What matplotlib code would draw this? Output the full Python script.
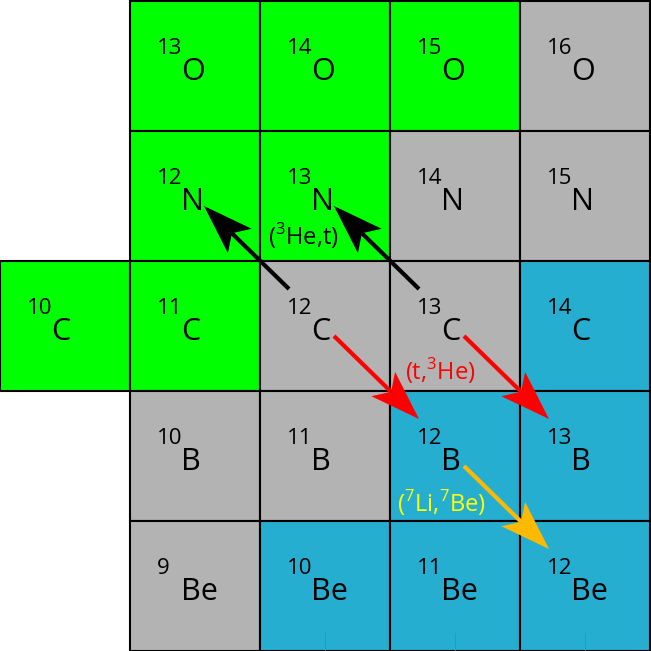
import numpy as np
import matplotlib
matplotlib.use("Agg")
from matplotlib import pyplot as plt
from matplotlib.patches import Rectangle, Polygon

plt.rcParams["font.family"] = ["Open Sans", "DejaVu Sans"]
plt.rcParams["mathtext.fontset"] = "custom"
plt.rcParams["mathtext.rm"] = "Open Sans"

# ── Nuclides (proton number, mass number, kind) ───────────────────────────────
SYMBOLS = {4: "Be", 5: "B", 6: "C", 7: "N", 8: "O"}
Z    = [8, 8, 8, 8,   7, 7, 7, 7,   6, 6, 6, 6, 6,   5, 5, 5, 5,   4, 4, 4, 4]
A    = [13, 14, 15, 16, 12, 13, 14, 15, 10, 11, 12, 13, 14, 10, 11, 12, 13, 9, 10, 11, 12]
KIND = ["p", "p", "p", "s", "p", "p", "s", "s", "p", "p", "s", "s", "n",
        "s", "s", "n", "n", "s", "n", "n", "n"]

# ── Reactions: (Z, A) from -> to ──────────────────────────────────────────────
REACTIONS = [((6, 12), (7, 12)), ((6, 13), (7, 13)),
             ((6, 12), (5, 12)), ((6, 13), (5, 13)),
             ((5, 12), (4, 12))]
REACTION_GROUP = [0, 0, 1, 1, 2]
LABELS = [r"($^{3}$He,t)", r"(t,$^{3}$He)", r"($^{7}$Li,$^{7}$Be)"]

COLORS = {"p": "#00ff00", "s": "#b3b3b3", "n": "#26aed0"}
ARROW_COLORS = ["#000000", "#ff0000", "#ffb900"]
LABEL_COLORS = ["#000000", "#ff0000", "#ffff00"]
LABEL_POS = [(6.331, 7.192), (7.385, 6.154), (7.392, 5.138)]

PX = 130.0  # pixels per cell


def draw_arrow(ax, p0, p1, color, lw=3.0, head_len=50 / PX, head_w=17 / PX):
    p0, p1 = np.asarray(p0, float), np.asarray(p1, float)
    u = (p1 - p0) / np.linalg.norm(p1 - p0)
    n = np.array([-u[1], u[0]])
    back = p1 - u * head_len
    notch = p1 - u * head_len * 0.78
    ax.plot([p0[0], notch[0]], [p0[1], notch[1]], color=color, lw=lw,
            solid_capstyle="butt", zorder=4)
    ax.add_patch(Polygon([p1, back + n * head_w, notch, back - n * head_w],
                         closed=True, facecolor=color, edgecolor="none", zorder=5))


fig = plt.figure(figsize=(6.51, 6.51), dpi=100)
ax = fig.add_axes([0, 0, 1, 1])
ax.set_xlim(4, 4 + 651 / PX)
ax.set_ylim(9 + 1 / PX - 651 / PX, 9 + 1 / PX)
ax.axis("off")

for z, a, k in zip(Z, A, KIND):
    n = a - z
    ax.add_patch(Rectangle((n, z), 1, 1, facecolor=COLORS[k], edgecolor="black",
                           lw=1.5, zorder=1))
    ax.text(n + 27 / PX, z + 1 - 53 / PX, str(a), fontsize=16, ha="left",
            va="baseline", zorder=3)
    ax.text(n + 51 / PX, z + 1 - 79 / PX, SYMBOLS[z], fontsize=22, ha="left",
            va="baseline", zorder=3)
    if k == "n" and z == min(Z):
        ax.plot([n + 0.5, n + 0.5], [z, z + 18 / PX], color="#1e9cbf", lw=0.6, zorder=2)

# arrows connect inner corner points of diagonal neighbours
UL = np.array([29 / PX, 1 - 28 / PX])
LR = np.array([74 / PX, 1 - 75 / PX])
for (src, dst), g in zip(REACTIONS, REACTION_GROUP):
    s = np.array([src[1] - src[0], src[0]], float)
    d = np.array([dst[1] - dst[0], dst[0]], float)
    if dst[0] > src[0]:      # going up-left
        p0, p1 = s + UL, d + LR
    else:                    # going down-right
        p0, p1 = s + LR, d + UL
    draw_arrow(ax, p0, p1, ARROW_COLORS[g])

for lab, col, pos in zip(LABELS, LABEL_COLORS, LABEL_POS):
    ax.text(pos[0], pos[1], lab, color=col, fontsize=17, ha="center",
            va="center", zorder=6)

fig.savefig("out.png", dpi=100)
